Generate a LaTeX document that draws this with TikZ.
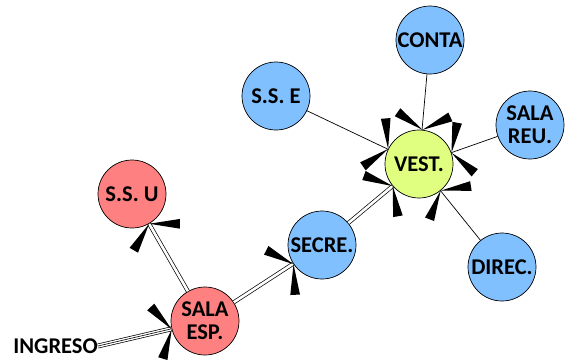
\documentclass[tikz,border=0pt]{standalone}
\usepackage{fontspec}
\setmainfont{Carlito}
\usetikzlibrary{calc}
\definecolor{nred}{RGB}{255,128,128}
\definecolor{nblue}{RGB}{128,192,255}
\definecolor{ngreen}{RGB}{224,255,128}
\tikzset{
  lbl/.style={font=\fontsize{22.5}{23}\selectfont\bfseries},
  room/.style={circle, draw=black, line width=0.7pt, minimum size=68pt, inner sep=0pt, align=center, lbl},
  redroom/.style={room, fill=nred},
  blueroom/.style={room, fill=nblue},
  greenroom/.style={room, fill=ngreen},
  single/.style={draw=black, line width=0.7pt},
  dbl/.style={draw=black, line width=0.7pt, double=white, double distance=2.6pt},
  wedge/.style={fill=black, draw=none}
}
\newcommand\wtip[2]{%
  \path let \p1=(#1), \p2=(#2.center), \n1={atan2(\y1-\y2,\x1-\x2)} in
    coordinate (T) at (#2.\n1)
    [wedge] (T) -- +(\n1+69:31pt) -- +(\n1+51:31pt) -- cycle
    [wedge] (T) -- +(\n1-51:31pt) -- +(\n1-69:31pt) -- cycle;
}
\begin{document}
\begin{tikzpicture}[x=1pt,y=-1pt]
\useasboundingbox (0,0) rectangle (576,360);
% nodes
\node[blueroom] (conta) at (430,40) {CONTA};
\node[blueroom] (sse) at (276,96) {S.S. E};
\node[blueroom] (reu) at (530,125) {SALA\\REU.};
\node[greenroom] (vest) at (419,164) {VEST.};
\node[redroom] (ssu) at (132,194) {S.S. U};
\node[blueroom] (secre) at (322,245) {SECRE.};
\node[blueroom] (direc) at (502,267) {DIREC.};
\node[redroom] (esp) at (205,321) {SALA\\ESP.};
\node[anchor=east, inner sep=0pt, lbl] (ingr) at (98,346) {INGRESO};
\coordinate (ingE) at (ingr.east);
% connectors
\path[single] (sse) -- (vest);
\path[single] (conta) -- (vest);
\path[single] (reu) -- (vest);
\path[single] (direc) -- (vest);
\path[dbl] (secre) -- (vest);
\path[dbl] (esp) -- (secre);
\path[dbl] (esp) -- (ssu);
\path[draw=black, line width=0.7pt, double=white, double distance=3.4pt] (ingE) -- (esp);
\path[single, line width=0.6pt] (ingE) -- (esp);
% arrow wedges
\wtip{sse}{vest}
\wtip{conta}{vest}
\wtip{reu}{vest}
\wtip{direc}{vest}
\wtip{secre}{vest}
\wtip{esp}{secre}
\wtip{esp}{ssu}
\wtip{ingE}{esp}
\end{tikzpicture}
\end{document}
